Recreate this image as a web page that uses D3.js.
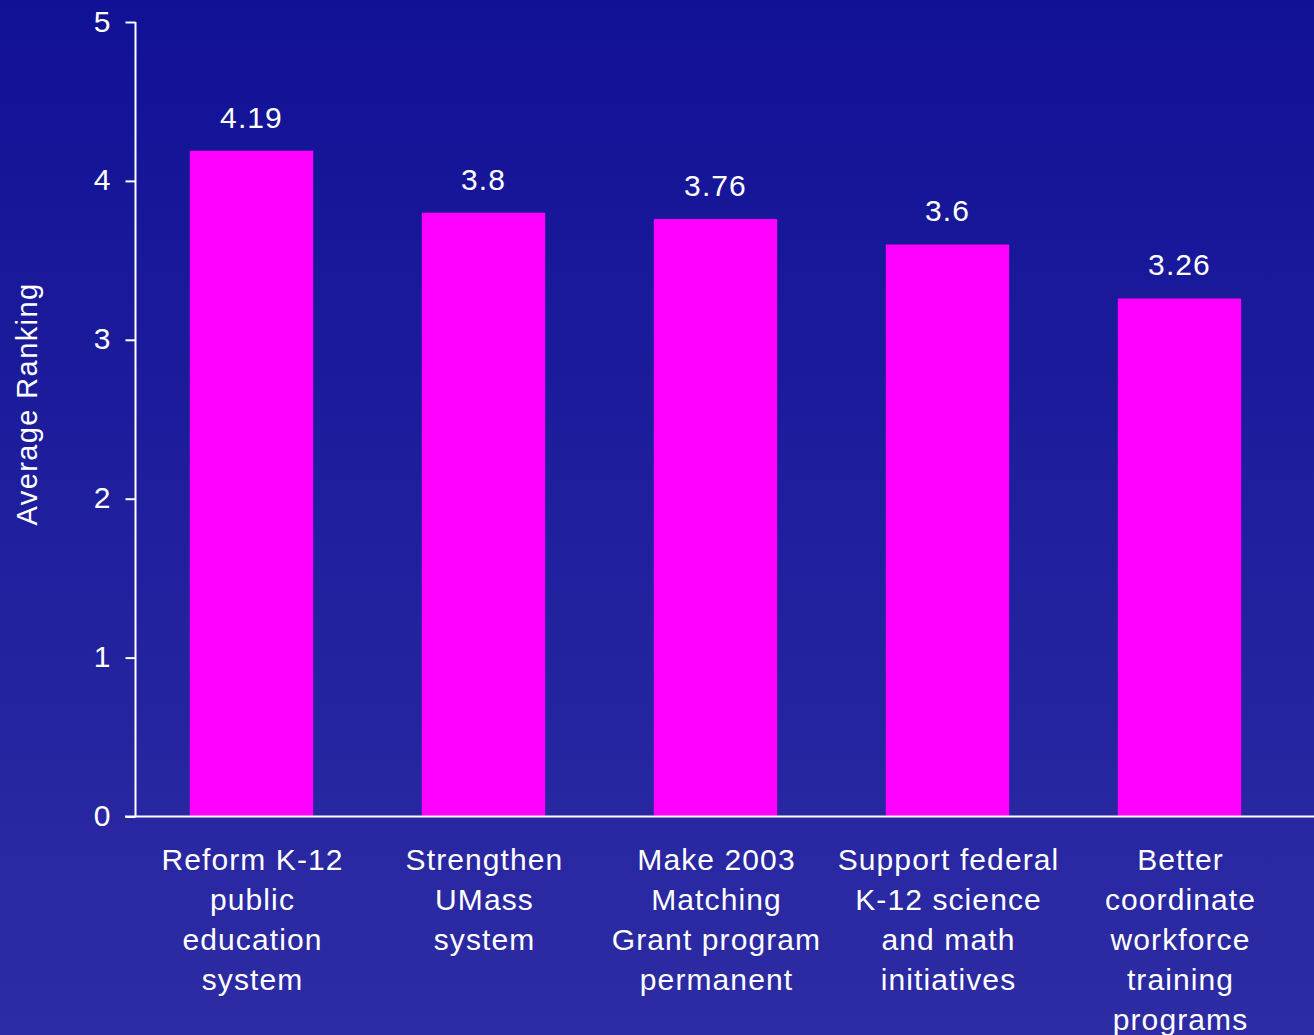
<!DOCTYPE html>
<html><head><meta charset="utf-8">
<script src="https://cdn.jsdelivr.net/npm/d3@7"></script>
<style>html,body{margin:0;padding:0;background:#1a1a99;}svg{display:block;}</style>
</head><body>
<script>
const categories = [
  ["Reform K-12","public","education","system"],
  ["Strengthen","UMass","system"],
  ["Make 2003","Matching","Grant program","permanent"],
  ["Support federal","K-12 science","and math","initiatives"],
  ["Better","coordinate","workforce","training","programs"]
];
const values = [4.19, 3.8, 3.76, 3.6, 3.26];
const valueLabels = ["4.19","3.8","3.76","3.6","3.26"];
const yTicks = [0,1,2,3,4,5];
const yTitle = "Average Ranking";

const W = 1314, H = 1035;
const svg = d3.select("body").append("svg").attr("width", W).attr("height", H);
const defs = svg.append("defs");
const grad = defs.append("linearGradient").attr("id","bg").attr("x1",0).attr("y1",0).attr("x2",0).attr("y2",1);
grad.append("stop").attr("offset","0%").attr("stop-color","#111196");
grad.append("stop").attr("offset","100%").attr("stop-color","#2e2ca4");
svg.append("rect").attr("width",W).attr("height",H).attr("fill","url(#bg)");

const x0 = 135.5, y0 = 816.5, yTop = 22;
const font = "'Liberation Sans', Arial, sans-serif";
const x = d3.scaleBand().domain(d3.range(values.length)).range([x0, x0 + 5*232]).paddingInner(0.468).paddingOuter(0.234);
const y = d3.scaleLinear().domain([0,5]).range([y0, yTop]);

// bars
svg.selectAll("rect.bar").data(values).join("rect").attr("class","bar")
  .attr("x",(d,i)=>x(i)).attr("width",x.bandwidth())
  .attr("y",d=>y(d)).attr("height",d=>y0-y(d)).attr("fill","#ff00ff");

// y axis
const yAxis = svg.append("g").attr("transform",`translate(${x0},0)`)
  .call(d3.axisLeft(y).tickValues(yTicks).tickSize(10).tickPadding(15).tickFormat(d3.format("d")));
yAxis.select(".domain").attr("stroke","#fff").attr("stroke-width",2).attr("d",`M0,${yTop}V${y0}`);
yAxis.selectAll(".tick line").attr("stroke","#fff").attr("stroke-width",2);
yAxis.selectAll(".tick text").attr("fill","#fff").attr("font-family",font).attr("font-size",30).attr("dy","0.3em");

// x axis line
svg.append("line").attr("x1",125).attr("x2",W).attr("y1",y0).attr("y2",y0).attr("stroke","#fff").attr("stroke-width",2);

// value labels
svg.selectAll("text.val").data(values).join("text").attr("class","val")
  .attr("x",(d,i)=>x(i)+x.bandwidth()/2).attr("y",d=>y(d)-23)
  .attr("text-anchor","middle").attr("fill","#fff").attr("font-family",font).attr("font-size",30)
  .attr("letter-spacing","1.1px").text((d,i)=>valueLabels[i]);

// category labels
const cg = svg.selectAll("text.cat").data(categories).join("text").attr("class","cat")
  .attr("text-anchor","middle").attr("fill","#fff").attr("font-family",font).attr("font-size",30)
  .attr("letter-spacing","1.1px");
cg.each(function(lines,i){
  const t = d3.select(this);
  lines.forEach((l,j)=>{
    t.append("tspan").attr("x",x(i)+x.bandwidth()/2+1).attr("y",870+j*40).text(l);
  });
});

// y title
svg.append("text").attr("transform","translate(37,404) rotate(-90)")
  .attr("text-anchor","middle").attr("fill","#fff").attr("font-family",font).attr("font-size",29)
  .attr("letter-spacing","1.4px").text(yTitle);
</script>
</body></html>
